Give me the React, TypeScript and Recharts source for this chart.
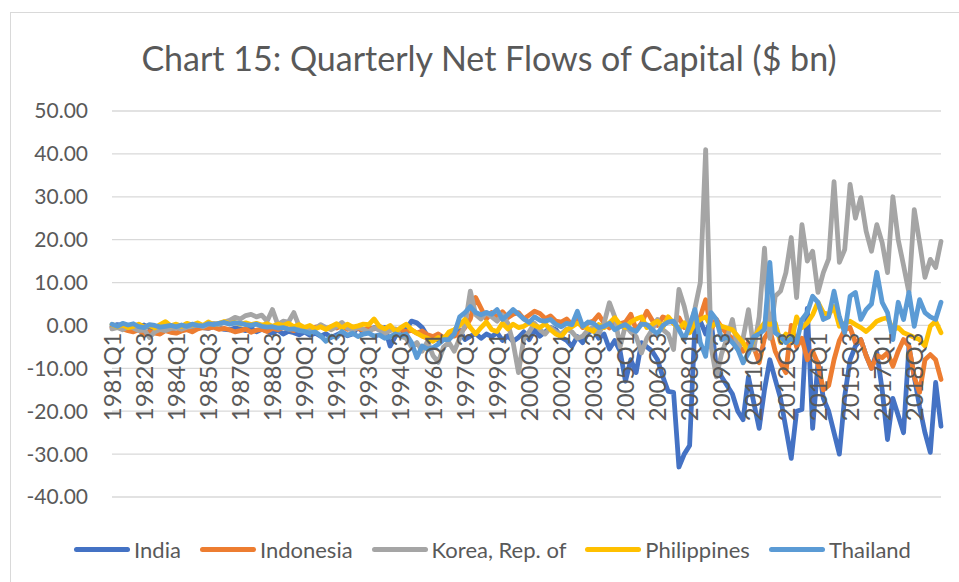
import React from 'react';
import { LineChart, Line, XAxis, YAxis, CartesianGrid } from 'recharts';

const YEARS_START = 1981;
const YEARS_END = 2019;
const quarters: string[] = [];
for (let y = YEARS_START; y <= YEARS_END; y++) {
  for (let q = 1; q <= 4; q++) quarters.push(`${y}Q${q}`);
}

const yTicks = [-40, -30, -20, -10, 0, 10, 20, 30, 40, 50];

const india = [
  -0.3, 0.2, 0.0, -0.5, -0.8, -0.3, 0.1, -0.6, -0.5, -0.9, -0.4, -0.7,
  -0.6, -0.3, -0.8, -0.4, -0.2, -0.5, -0.7, -0.3, -0.6, -0.9, -1.0, -0.6,
  -0.8, -1.2, -0.6, -1.5, -0.9, -1.3, -1.8, -1.1, -2.0, -1.4, -1.7, -2.2,
  -1.5, -2.3, -1.8, -2.5, -1.9, -2.8, -2.2, -1.6, -2.4, -2.0, -0.3, -1.8,
  -1.2, -0.5, -1.0, -0.5, -4.8, -2.5, -1.5, -0.8, 1.0, 0.6, -0.5, -2.5,
  -2.8, -3.5, -3.0, -2.5, -1.8, -1.2, -3.3, -2.5, -1.9, -3.0, -2.0, -2.6,
  -1.7, -3.5, -2.4, -3.7, -2.8, -1.5, -3.3, -1.0, -2.5, -1.5, -0.5, -1.0,
  -2.8, -3.5, -4.9, -2.6, -4.0, -1.7, -1.0, -3.0, -2.0, -5.5, -3.5, -6.0,
  -13.0, -8.0, -11.0, -4.0, -5.0, -6.0, -8.0, -12.0, -15.4, -15.6, -33.0, -30.0,
  -28.0, 0.5, 1.0, -2.0, 1.4, -10.0, -12.0, -14.0, -16.0, -20.0, -22.0, -12.0,
  -18.0, -24.0, -15.0, -8.0, -12.6, -17.0, -24.0, -31.0, -20.0, -19.6, 4.0, -24.0,
  -8.6, -17.0, -20.0, -25.0, -30.0, -16.5, -8.0, -4.8, -3.3, -7.0, -10.0, -6.3,
  -15.0, -26.6, -17.0, -21.0, -25.0, -5.0, -12.0, -19.0, -25.0, -29.6, -13.3, -23.5,
];

const indonesia = [
  -0.5, -0.3, -0.8, -1.2, -1.5, -1.0, -2.2, -1.4, -1.8, -2.0, -1.2, -1.6,
  -1.8, -1.3, -1.0, -1.5, -0.8, -0.5, -0.6, -0.4, -0.9, -0.7, -1.0, -1.5,
  -1.2, -0.8, -1.6, -1.1, -0.9, -1.4, -0.7, -1.0, -0.5, -0.8, -1.2, -0.6,
  -0.5, -0.9, -0.4, -0.2, -0.8, -0.3, -0.6, -0.1, -0.9, -0.4, -0.7, -1.1,
  -0.5, -0.8, -0.2, -1.0, -0.6, -1.3, -0.9, -1.5, -1.1, -1.8, -1.3, -2.2,
  -2.6, -2.0, -2.8, -2.2, -2.5, -1.8, -0.5, 1.5, 6.5, 4.0, 1.5, 3.0,
  2.0, 3.2, 1.8, 2.6, 3.0, 1.5, 2.4, 3.3, 2.8, 1.6, 2.2, 1.0,
  0.8, 1.5, 0.2, 1.2, -0.5, 0.6, 1.0, 2.5, 0.5, -0.6, 1.0, 0.4,
  0.8, 2.6, -1.0, 0.5, 3.3, 1.2, 0.0, 2.0, 1.5, 0.5, 1.8, -0.5,
  1.0, 0.5, 2.0, 6.0, -1.0, 1.4, -0.5, -2.0, -3.0, -4.5, -6.0, -4.0,
  -5.0, -8.7, -3.0, -1.0, -6.0, -8.7, -11.0, 0.0, -5.0, -3.0, -8.0, -6.0,
  -9.0, -15.0, -14.0, -8.0, -3.5, -1.0, -0.5, -4.0, -3.3, -7.0, -10.0, -7.0,
  -7.5, -6.4, -9.5, -6.0, -3.3, -4.8, -12.0, -15.6, -8.0, -6.8, -8.0, -12.6,
];

const korea = [
  -0.8, -0.5, -1.0, -0.3, -0.6, -1.2, -1.0, -2.8, -1.5, -0.9, -1.2, -0.7,
  -0.5, -0.9, -0.4, -0.2, 0.1, -0.3, 0.3, 0.5, 0.2, 0.8, 1.2, 1.9,
  1.5, 2.3, 2.6, 2.0, 2.4, 1.0, 3.7, 0.2, 1.0, 0.8, 3.0, -0.2,
  -0.5, -1.2, -0.8, 0.2, -0.5, -1.0, -0.3, 0.7, -0.6, -1.2, -0.4, -0.9,
  -1.5, -0.6, -1.0, -2.0, -1.2, -0.8, -2.5, -3.0, -5.0, -4.0, -6.0, -3.7,
  -7.0, -8.6, -5.0, -4.0, -6.0, -3.0, 0.0, 8.0, 2.5, 1.5, 3.0, 2.0,
  1.0, 2.5, 0.5, -4.0, -11.0, -3.0, -1.5, 0.5, -1.0, -2.0, -0.5, -1.5,
  -2.0, -0.8, -1.5, -3.0, -2.5, -1.0, -0.5, -2.0, 0.5, 5.3, 2.0, -5.0,
  0.0, -1.5, -2.6, -6.4, -3.0, -1.0, 1.4, -1.0, -2.0, -5.6, 8.4, 4.4,
  -1.0, 4.0, 10.0, 41.0, -4.8, -12.0, -6.5, -3.0, 1.4, -5.6, -3.0, 3.7,
  -5.6, 2.0, 18.0, -3.0, 6.8, 8.0, 12.3, 20.5, 6.5, 23.5, 15.0, 17.3,
  7.7, 12.3, 15.5, 33.5, 14.7, 17.7, 32.9, 25.0, 29.8, 22.0, 17.3, 23.5,
  19.3, 12.3, 30.0, 20.0, 14.0, 7.7, 27.0, 19.3, 11.2, 15.4, 13.5, 19.6,
];

const philippines = [
  0.2, -0.3, 0.1, -0.5, -0.2, 0.3, -0.4, 0.0, -0.6, 0.2, 0.9, -0.1,
  0.3, -0.2, 0.5, 0.1, 0.6, 0.0, 0.8, 0.2, 0.5, 0.9, 0.4, 0.7,
  0.3, 0.6, 0.2, 0.5, 0.1, 0.4, -0.2, 0.3, 0.0, 0.5, -0.3, 0.2,
  -0.5, 0.0, -0.8, -0.3, -0.9, -0.2, 0.4, -0.6, 0.3, -0.4, -0.1, 0.3,
  0.2, 1.5, -0.2, -0.8, 0.0, -1.4, -0.5, 0.3, -1.0, -1.8, -2.5, -3.0,
  -3.7, -2.8, -3.2, -1.5, -1.0, 0.0, 1.4, -0.5, -2.0, -0.5, 0.8, -1.0,
  -1.4, 0.5, -0.8, 0.3, -0.5, -0.2, 0.6, 0.0, -0.5, 0.4, -1.0, -2.0,
  -2.6, -1.0, -0.3, 0.5, 0.0, -0.8, -1.4, 0.2, -0.5, 0.6, 1.8, 0.2,
  -0.5, 0.8, 1.5, 2.0, -0.5, 0.3, 1.0, -0.4, 2.0, 0.5, -0.8, 0.6,
  -1.7, 0.5, 1.4, 2.0, -0.2, 0.5, -0.2, -0.6, -1.0, -2.5, -4.0, -6.4,
  -3.0, -1.0, 0.6, 0.2, 0.6, -4.0, -2.0, -4.0, 2.0, -0.5, 0.6, 2.5,
  5.4, 3.0, 2.5, 4.4, -0.2, 0.5, 1.0, 0.2, -0.5, -1.4, -0.3, 1.0,
  1.5, 1.8, -1.0, -0.5, -1.7, -2.2, -2.8, -3.3, -4.8, -0.2, 1.0, -1.7,
];

const thailand = [
  0.3, -0.2, 0.5, 0.1, 0.4, -0.3, -0.5, 0.2, 0.0, -0.4, -0.2, 0.0,
  -0.3, 0.1, -0.2, 0.3, 0.0, -0.1, 0.4, 0.2, 0.5, 0.7, 0.3, 0.6,
  0.5, 0.2, 0.0, 0.3, -0.2, -0.4, -0.3, -0.6, -0.5, -0.9, -0.8, -1.2,
  -1.4, -1.8, -1.5, -2.4, -3.7, -2.5, -2.8, -1.4, -2.3, -1.8, -2.6, -2.0,
  -1.8, -2.5, -2.2, -3.0, -2.6, -2.0, -2.4, -2.0, -4.0, -7.5, -4.8, -5.5,
  -5.2, -4.4, -3.3, -3.3, -2.0, 2.0, 3.0, 4.4, 3.0, 2.5, 3.0, 2.6,
  3.7, 1.4, 2.5, 3.7, 2.6, 1.5, 0.7, 2.0, 1.2, 1.0, 1.4, 0.2,
  -0.3, 0.5, 0.2, 3.3, -0.2, 0.8, 0.5, -0.5, -0.2, 0.5, -1.0, -0.3,
  0.2, -0.8, -1.4, 0.3, 0.2, -1.0, -2.0, 0.0, 0.8, 1.0, -1.0, -3.3,
  0.0, 3.7, -4.0, -7.2, 3.0, 1.4, -3.3, -2.6, -4.0, -5.6, -8.7, -6.4,
  -2.6, -2.0, -1.0, 14.7, -1.7, -2.6, -4.0, -3.0, -4.0, 1.4, 3.0, 6.8,
  5.4, 1.4, 2.0, 8.0, 2.0, -1.7, 6.8, 7.7, 1.4, 3.7, 5.0, 12.4,
  5.4, 3.0, -3.3, 5.4, 1.4, 7.7, -0.2, 6.0, 3.0, 2.0, 1.4, 5.4,
];

const series = [
  { key: 'india', name: 'India', color: '#4472C4', values: india },
  { key: 'indonesia', name: 'Indonesia', color: '#ED7D31', values: indonesia },
  { key: 'korea', name: 'Korea, Rep. of', color: '#A5A5A5', values: korea },
  { key: 'philippines', name: 'Philippines', color: '#FFC000', values: philippines },
  { key: 'thailand', name: 'Thailand', color: '#5B9BD5', values: thailand },
];

const data = quarters.map((q, i) => {
  const row: Record<string, string | number> = { q };
  series.forEach((s) => {
    row[s.key] = s.values[i];
  });
  return row;
});

const W = 959;
const H = 582;
const Y_MIN = -40;
const Y_MAX = 50;
const MARGIN = { top: 111, right: 18, bottom: 55, left: 0 };
const X_AXIS_H = 30;
const PLOT_TOP = MARGIN.top;
const PLOT_BOTTOM = H - MARGIN.bottom - X_AXIS_H;
const TEXT = '#595959';
const FONT = 'Lato, "Open Sans", sans-serif';

const XTick = (props: any) => {
  const { x, payload } = props;
  const zeroY = PLOT_TOP + ((Y_MAX - 0) / (Y_MAX - Y_MIN)) * (PLOT_BOTTOM - PLOT_TOP);
  const ty = zeroY + 7;
  return (
    <text
      x={x}
      y={ty}
      transform={`rotate(-90 ${x} ${ty})`}
      textAnchor="end"
      dy="0.36em"
      fill={TEXT}
      fontSize={24}
      fontFamily={FONT}
    >
      {payload.value}
    </text>
  );
};

export default function App() {
  return (
    <div
      style={{
        position: 'absolute',
        left: 0,
        top: 0,
        width: W,
        height: H,
        overflow: 'hidden',
        background: '#fff',
        fontFamily: FONT,
      }}
    >
      <div
        style={{
          position: 'absolute',
          left: 10,
          top: 12,
          width: 1000,
          height: 1000,
          border: '1px solid #d9d9d9',
        }}
      />
      <div
        style={{
          position: 'absolute',
          left: 0,
          top: 36,
          width: 978,
          textAlign: 'center',
          fontSize: 34,
          lineHeight: '44px',
          color: TEXT,
        }}
      >
        Chart 15: Quarterly Net Flows of Capital ($ bn)
      </div>
      <div style={{ position: 'absolute', left: 0, top: 0 }}>
        <LineChart width={W} height={H} data={data} margin={MARGIN}>
          <CartesianGrid vertical={false} stroke="#d9d9d9" strokeWidth={1.3} />
          <XAxis
            dataKey="q"
            interval={5}
            height={X_AXIS_H}
            axisLine={false}
            tickLine={false}
            tick={<XTick />}
          />
          <YAxis
            domain={[Y_MIN, Y_MAX]}
            ticks={yTicks}
            width={112}
            axisLine={false}
            tickLine={false}
            tickSize={0}
            tickMargin={24}
            tickFormatter={(v: number) => v.toFixed(2)}
            tick={{ fill: TEXT, fontSize: 21, fontFamily: FONT }}
          />
          {series.map((s) => (
            <Line
              key={s.key}
              type="linear"
              dataKey={s.key}
              name={s.name}
              stroke={s.color}
              strokeWidth={4.8}
              strokeLinejoin="round"
              strokeLinecap="round"
              dot={false}
              activeDot={false}
              isAnimationActive={false}
            />
          ))}
        </LineChart>
      </div>
      <div
        style={{
          position: 'absolute',
          left: 0,
          top: 535,
          width: 985,
          height: 28,
          display: 'flex',
          justifyContent: 'center',
          alignItems: 'center',
          gap: 19,
          fontSize: 22,
          color: TEXT,
        }}
      >
        {series.map((s) => (
          <div key={s.key} style={{ display: 'flex', alignItems: 'center' }}>
            <span
              style={{
                display: 'inline-block',
                width: 56,
                height: 5,
                borderRadius: 3,
                background: s.color,
                marginRight: 4,
              }}
            />
            <span>{s.name}</span>
          </div>
        ))}
      </div>
    </div>
  );
}
